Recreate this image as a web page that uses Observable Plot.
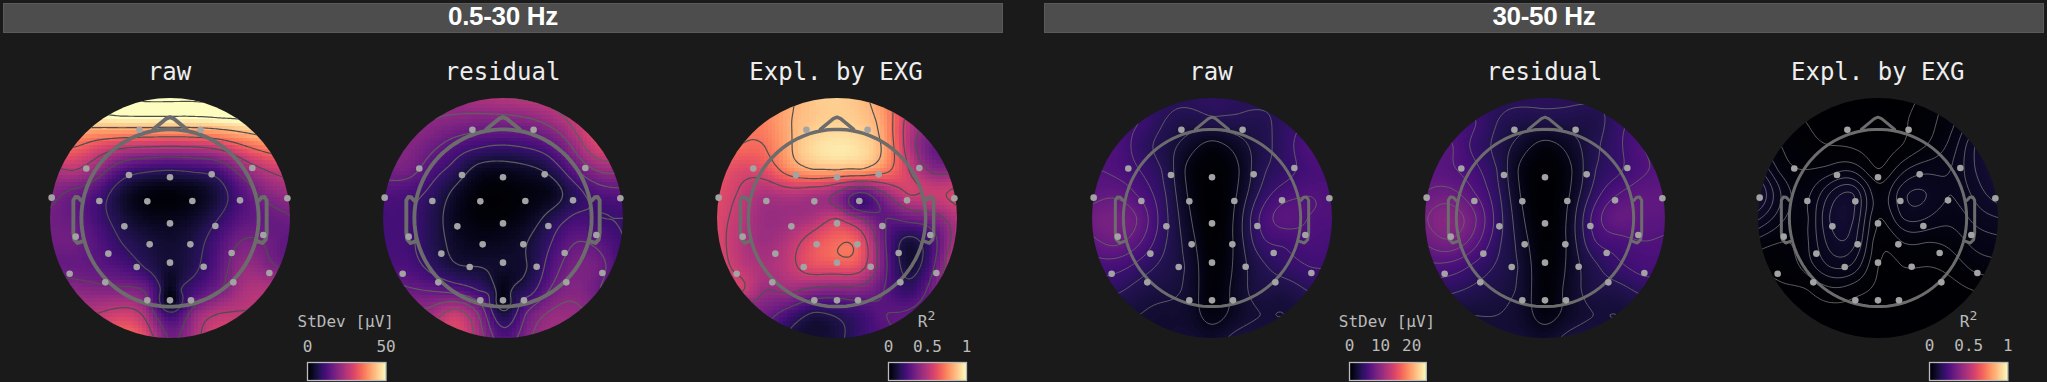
<!DOCTYPE html>
<html>
<head>
<meta charset="utf-8">
<script src="https://cdn.jsdelivr.net/npm/d3@7"></script>
<script src="https://cdn.jsdelivr.net/npm/@observablehq/plot@0.6"></script>
<style>
  html, body { margin: 0; padding: 0; background: #1a1a1a; }
  #page { position: relative; width: 2047px; height: 382px; overflow: hidden; background: #1a1a1a; }
  #page > * { position: absolute; }
  .band { height: 28px; background: #4d4d4d; border: 1px solid #5a5a5a; box-sizing: content-box;
          color: #fff; font: bold 26px/25px "Liberation Sans", sans-serif; text-align: center; letter-spacing: -0.3px; }
  .title { width: 300px; text-align: center; color: #eee; font: 24px/36px "DejaVu Sans Mono", monospace; }
  .barlabel { width: 160px; text-align: center; color: #bbb; font: 16px/20px "DejaVu Sans Mono", monospace; }
  .barlabel sup { font-size: 13px; line-height: 0; vertical-align: 7px; }
</style>
</head>
<body>
<div id="page"></div>
<script>
const bands = ["0.5-30 Hz", "30-50 Hz"];
const titles = ["raw", "residual", "Expl. by EXG"];
const gridSteps = [-1.35, -1.08, -0.81, -0.54, -0.27, 0, 0.27, 0.54, 0.81, 1.08, 1.35];

// Sensor positions, head radius = 1
const sensorX = [-.34,.34,-.93,-.456,0,.463,.915,-1.315,-.785,-.252,.248,.778,1.304,-1.048,-.507,0,.504,1.037,-.685,-.226,.226,.685,-1.115,-.719,-.37,0,.374,.704,1.104,-.252,0,.233];
const sensorY = [.98,.98,.55,.478,.452,.485,.556,.226,.189,.185,.189,.196,.219,-.207,-.093,-.06,-.089,-.189,-.396,-.293,-.293,-.389,-.619,-.715,-.544,-.496,-.541,-.715,-.611,-.915,-.915,-.915];

// Head outline
const headAngles = d3.range(0, 361, 4);
const noseX = [-.185,-.04,0,.04,.185];
const noseY = [.985,1.105,1.12,1.105,.985];
const earX = [.989,1.02,1.052,1.074,1.074,1.063,1.026,.974];
const earY = [.196,.23,.233,.196,-.167,-.24,-.278,-.259];

// Values read at gridSteps, rows from top to bottom (µV or R²)
const rawBroad = [
  [60,60,60,61,62,62,62,63,64,64,64],
  [46,46,47,48,48,48,48,49,50,51,52],
  [37,35,31,28,27,26.5,27,29,34,38,40],
  [24,26,21,13,10,9,10,12,20.5,26,29],
  [19,15.5,12,5,1.5,1,2,6,13,19,22],
  [16.5,15,11,6,3,2.5,4,8.5,13.5,15,16.5],
  [16.5,16.5,13,8.5,6,4.5,6.5,12,17.5,16.5,14],
  [15,15,14,12,8,5,7.5,13.5,21,18.5,15],
  [21,20,19,18.5,16.5,1,11,16.5,23.5,25,25],
  [25,25,26,28.5,24,10,21,26,26,25,25],
  [30,30,32,35,31,16.5,23.5,29,29,28,27]
];
const residualBroad = [
  [20,20,21,22,24,25,26,27,29,31,31],
  [18,20,20,19,18,18,19,22,27,32,32],
  [18.5,19,16.5,13,11,10,11,14,22,30,30],
  [16.5,17.5,12.5,8.5,3.5,3,4,7,15,21,21],
  [12.5,11.5,9,4,1,.5,1.5,2.5,8,12.5,13.5],
  [11,11,7.5,3,1,1,2.5,7,11,10,10],
  [11,11,7.5,4,2.5,3,5,10,15,13.5,10],
  [12,12,9,5.5,5,4.5,5,12.5,17.5,16.5,10],
  [17.5,16,15,13.5,10,1,7.5,16,19,15,12.5],
  [22.5,22.5,22,28,20,6,16,21,21,19,15],
  [27,27,27,30,23,12.5,19,22.5,21,20,15]
];
const explBroad = [
  [.72,.72,.74,.82,.88,.9,.86,.76,.6,.5,.45],
  [.75,.72,.74,.83,.88,.9,.88,.78,.5,.45,.45],
  [.72,.7,.7,.82,.92,.95,.92,.8,.48,.3,.3],
  [.65,.6,.62,.76,.84,.85,.84,.74,.55,.38,.4],
  [.62,.55,.47,.5,.47,.4,.25,.42,.57,.55,.6],
  [.6,.52,.43,.44,.47,.56,.42,.28,.33,.37,.5],
  [.6,.5,.44,.5,.62,.68,.63,.28,.1,.25,.5],
  [.6,.52,.47,.52,.62,.63,.6,.3,.1,.28,.6],
  [.5,.58,.42,.44,.38,.36,.36,.27,.18,.35,.5],
  [.3,.3,.32,.22,.12,.15,.2,.28,.3,.35,.3],
  [.28,.28,.28,.12,.1,.12,.2,.25,.28,.28,.28]
];
const rawHigh = [
  [4,4,4,4,4,4.2,4,4,4,4.5,5],
  [5,5,5,3.8,3.2,3.5,3.5,3.5,4.2,5,5],
  [6,6,4.4,3.2,2,.8,1.8,3.2,4.4,6,6],
  [6.2,6,5,3.6,1,.2,1,3.4,4.4,5.5,5.8],
  [6.8,7.2,6,4,1.2,0,1.2,4,5.7,6.2,6],
  [8,8.5,7.3,4.3,1.6,0,1.6,5.2,6.8,6.2,6],
  [7,7.8,6.4,4,2,.2,1.6,4.6,5.2,5.8,5.5],
  [5.5,5.5,4.5,3.4,2.3,.3,1.6,3.4,4.4,5,5],
  [4.2,4,3.2,2.8,2.2,.4,1.8,3,3,3.8,4.2],
  [2.5,2.5,2.5,2.2,2,.8,1.8,2.5,2.5,3,3],
  [2.5,2.5,2.5,2.2,2.5,2,3,3,3,3,3]
];
const residualHigh = [
  [4,4,4,4,4,4,4,4,4,4.5,5],
  [5,5.2,5.2,3.8,3.2,3.2,3.2,3.2,4.5,5.5,5.5],
  [6.2,6.5,4.8,3.4,2,.8,1.8,3.4,4.7,6.2,6.5],
  [6.8,6.5,5.5,3.8,1,.2,1,3.6,4.7,6,6.5],
  [7.5,8,6.5,4.2,1.2,0,1.2,4.2,6.2,7,7],
  [8.5,9.5,8,4.6,1.6,0,1.6,5.4,7.4,7,6.8],
  [7.5,8.5,7,4.2,2,.2,1.6,4.8,5.6,6.2,6],
  [5.8,5.8,4.8,3.6,2.3,.3,1.6,3.4,4.7,5.5,5.5],
  [4,4,3.5,3,2.2,.4,1.8,3,3.2,4,4.2],
  [2.5,2.5,2.5,2.5,2,.8,1.8,2.5,2.5,3,3],
  [2.5,2.5,2.5,2.5,2.5,2,3,3,3,3,3]
];
const explHigh = [
  [.02,.005,0,0,0,0,0,.01,.03,.055,.08],
  [.03,.01,.005,0,0,0,.003,.015,.03,.06,.09],
  [.04,.02,.01,.005,.003,0,.005,.02,.04,.08,.1],
  [.07,.03,.02,.025,.03,.005,.03,.045,.05,.08,.1],
  [.1,.05,.03,.065,.08,.025,.06,.065,.05,.07,.09],
  [.07,.04,.03,.08,.08,.02,.05,.05,.04,.055,.065],
  [.03,.02,.03,.07,.07,.01,.02,.02,.025,.04,.045],
  [.01,.01,.025,.05,.045,.005,.005,.005,.01,.025,.03],
  [.002,.003,.003,.015,.01,.002,0,0,0,.005,.01],
  [0,0,0,0,0,0,0,0,0,0,0],
  [0,0,0,0,0,0,0,0,0,0,0]
];
// Extra readings at narrow features: [x, y, value]
const rawBroadExtra = [[0,-.915,0],[0,-.65,3],[-.12,-.8,10],[.12,-.8,9],[0,-1.05,9]];
const residualBroadExtra = [[0,-.915,0],[0,-.7,2.5],[0,-1.05,6],[-.12,-.85,9],[.12,-.85,8]];
const explBroadExtra = [[.25,.16,.17],[.11,-.35,.72]];
const noExtra = [];

const broadLevels = [8.5,17,25.5,34,42.5,51,59.5];
const residualLevels = [5,10,15,20,25,30];
const explLevels = [.14,.28,.42,.56,.7,.84];
const highLevels = [1.25,2.5,3.75,5,6.25,7.5,8.75];
const explHighLevels = [.005,.02,.035,.05,.065,.08,.095];

const panels = [
  {left:169.5, title:titles[0], rows:rawBroad, extra:rawBroadExtra, max:50, levels:broadLevels, px:3.75, line:"#4e4e4e", lw:1.2, head:3.9},
  {left:502.6, title:titles[1], rows:residualBroad, extra:residualBroadExtra, max:50, levels:residualLevels, px:3.75, line:"#5e5e5e", lw:1.2, head:3.9},
  {left:836, title:titles[2], rows:explBroad, extra:explBroadExtra, max:1, levels:explLevels, px:3.75, line:"#505050", lw:1.2, head:3.5},
  {left:1211, title:titles[0], rows:rawHigh, extra:noExtra, max:24.7, levels:highLevels, px:1.5, line:"#666", lw:.9, head:3},
  {left:1544.3, title:titles[1], rows:residualHigh, extra:noExtra, max:24.7, levels:highLevels, px:1.5, line:"#666", lw:.9, head:3},
  {left:1877.7, title:titles[2], rows:explHigh, extra:noExtra, max:1, levels:explHighLevels, px:1.5, line:"#777", lw:.8, head:3}
];
const colorbars = [
  {left:306.5, right:385, max:50, ticks:[0,50], label:"StDev [µV]"},
  {left:887.6, right:965.6, max:1, ticks:[0,.5,1], label:"R<sup>2</sup>"},
  {left:1348.6, right:1425.4, max:24.7, ticks:[0,10,20], label:"StDev [µV]"},
  {left:1929.3, right:2007.7, max:1, ticks:[0,.5,1], label:"R<sup>2</sup>"}
];

// Smooth surface through the readings, passed to Plot as its interpolate option
function smoothSurface(index, width, height, X, Y, V) {
  const n = index.length, m = n + 3, scale = 50;
  const phi = (dx, dy) => { const r2 = (dx*dx + dy*dy)/(scale*scale); return r2 > 0 ? 0.5*r2*Math.log(r2) : 0; };
  const A = Array.from({length:m}, () => new Float64Array(m + 1));
  for (let a = 0; a < n; ++a) {
    const i = index[a];
    for (let b = 0; b < n; ++b) { const j = index[b]; A[a][b] = phi(X[i]-X[j], Y[i]-Y[j]); }
    A[a][a] = 0.002;
    A[a][n] = A[n][a] = 1;
    A[a][n+1] = A[n+1][a] = X[i]/scale;
    A[a][n+2] = A[n+2][a] = Y[i]/scale;
    A[a][m] = V[i];
  }
  for (let c = 0; c < m; ++c) {
    let p = c;
    for (let r = c + 1; r < m; ++r) if (Math.abs(A[r][c]) > Math.abs(A[p][c])) p = r;
    [A[c], A[p]] = [A[p], A[c]];
    for (let r = c + 1; r < m; ++r) {
      const f = A[r][c]/A[c][c];
      if (f) for (let k = c; k <= m; ++k) A[r][k] -= f*A[c][k];
    }
  }
  const w = new Float64Array(m);
  for (let c = m - 1; c >= 0; --c) {
    let s = A[c][m];
    for (let k = c + 1; k < m; ++k) s -= A[c][k]*w[k];
    w[c] = s/A[c][c];
  }
  const out = new Float64Array(width*height);
  for (let gy = 0; gy < height; ++gy) for (let gx = 0; gx < width; ++gx) {
    const px = gx + 0.5, py = gy + 0.5;
    let s = w[n] + w[n+1]*px/scale + w[n+2]*py/scale;
    for (let a = 0; a < n; ++a) { const i = index[a]; s += w[a]*phi(px-X[i], py-Y[i]); }
    out[gy*width + gx] = s;
  }
  return out;
}

const page = document.getElementById("page");
const place = (node, left, top) => { node.style.left = left + "px"; node.style.top = top + "px"; page.appendChild(node); return node; };

[[3,1003],[1044,2044]].forEach(([a,b],i) => {
  const d = document.createElement("div");
  d.className = "band"; d.textContent = bands[i];
  d.style.width = (b - a - 2) + "px";
  place(d, a, 3);
});

let clipId = 0;
const clipDisc = (index, scales, values, dims, context, next) => {
  const g = next(index, scales, values, dims, context);
  const id = "disc" + (++clipId);
  const ns = "http://www.w3.org/2000/svg";
  const cp = document.createElementNS(ns, "clipPath");
  cp.setAttribute("id", id);
  const c = document.createElementNS(ns, "circle");
  c.setAttribute("cx", scales.x(0));
  c.setAttribute("cy", scales.y(0));
  c.setAttribute("r", scales.x(4/3) - scales.x(0));
  cp.appendChild(c);
  g.appendChild(cp);
  g.setAttribute("clip-path", `url(#${id})`);
  return g;
};

const head = headAngles.map(a => ({x: .985*Math.cos(a*Math.PI/180), y: .985*Math.sin(a*Math.PI/180)}));
const nose = noseX.map((x,i) => ({x, y:noseY[i]}));
const earR = earX.map((x,i) => ({x, y:earY[i]}));
const earL = earX.map((x,i) => ({x:-x, y:earY[i]}));
const sensors = sensorX.map((x,i) => ({x, y:sensorY[i]}));

for (const p of panels) {
  const pts = [];
  p.rows.forEach((row,r) => row.forEach((v,c) => pts.push({x:gridSteps[c], y:gridSteps[10-r], v})));
  p.extra.forEach(([x,y,v]) => pts.push({x,y,v}));
  const outline = {stroke:"#6c6c6c", strokeWidth:p.head, x:"x", y:"y", strokeLinejoin:"round", strokeLinecap:"round"};
  const svg = Plot.plot({
    width:243, height:243, margin:0,
    x:{domain:[-1.35,1.35], axis:null},
    y:{domain:[-1.35,1.35], axis:null},
    color:{type:"linear", scheme:"magma", domain:[0,p.max], clamp:true},
    style:{background:"transparent", overflow:"visible"},
    marks:[
      Plot.raster(pts, {x:"x", y:"y", fill:"v", interpolate:smoothSurface, pixelSize:p.px,
        imageRendering:"pixelated", render:clipDisc}),
      Plot.contour(pts, {x:"x", y:"y", value:"v", interpolate:smoothSurface, pixelSize:2,
        thresholds:p.levels, stroke:p.line, strokeWidth:p.lw, fill:"none", render:clipDisc}),
      Plot.line(head, outline),
      Plot.line(nose, outline),
      Plot.line(earL, outline),
      Plot.line(earR, outline),
      Plot.dot(sensors, {x:"x", y:"y", r:3.3, fill:"#a3a3a3", stroke:"none"})
    ]
  });
  place(svg, p.left - 121.5, 95.5);
  const t = document.createElement("div");
  t.className = "title"; t.textContent = p.title;
  place(t, p.left - 150, 54);
}

for (const b of colorbars) {
  const pad = 30, w = b.right - b.left;
  const svg = Plot.plot({
    width:w + 2*pad, height:18 + 26,
    marginLeft:pad, marginRight:pad, marginTop:26, marginBottom:0,
    x:{domain:[0,b.max], axis:null},
    y:{domain:[0,1], axis:null},
    color:{type:"linear", scheme:"magma", domain:[0,b.max]},
    style:{background:"transparent", overflow:"visible"},
    marks:[
      Plot.raster({fill:(x,y) => x, x1:0, x2:b.max, y1:0, y2:1, pixelSize:1}),
      Plot.frame({stroke:"#bbb", strokeWidth:1.3}),
      Plot.axisX({anchor:"top", ticks:b.ticks, tickSize:0, tickPadding:11, tickFormat:d => String(d),
        fontSize:16, fontFamily:"DejaVu Sans Mono", fill:"#bbb", label:null})
    ]
  });
  place(svg, b.left - pad, 362 - 26);
  const l = document.createElement("div");
  l.className = "barlabel"; l.innerHTML = b.label;
  place(l, (b.left + b.right)/2 - 80, 312);
}
</script>
</body>
</html>
